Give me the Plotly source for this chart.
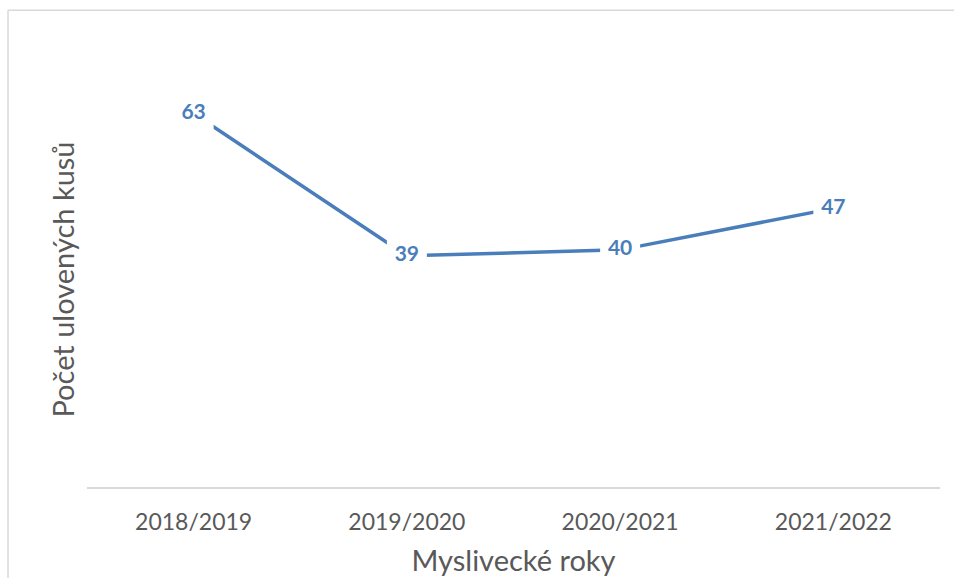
import plotly.graph_objects as go

categories = ["2018/2019", "2019/2020", "2020/2021", "2021/2022"]
values = [63, 39, 40, 47]
x_title = "Myslivecké roky"
y_title = "Počet ulovených kusů"

blue = "#4A7EBB"
gray = "#595959"
border = "#D9D9D9"
font_family = "Lato, 'Open Sans', sans-serif"

fig = go.Figure()
fig.add_trace(go.Scatter(
    x=categories, y=values,
    mode="lines+markers+text",
    line=dict(color=blue, width=3.5),
    marker=dict(symbol="square", size=40, color="white", line=dict(width=0)),
    text=[str(v) for v in values],
    textposition="middle center",
    textfont=dict(family=font_family, size=21, color=blue, weight="bold"),
    cliponaxis=False,
    hoverinfo="skip",
))

fig.update_layout(
    template="none",
    width=954, height=578,
    margin=dict(l=87, r=14, t=72, b=91),
    paper_bgcolor="white", plot_bgcolor="white",
    showlegend=False,
    font=dict(family=font_family, color=gray),
    xaxis=dict(
        type="category", automargin=False,
        range=[-0.5, len(categories) - 0.5],
        showgrid=False, zeroline=False,
        showline=True, linecolor=border, linewidth=1.5,
        ticks="", tickfont=dict(size=23, color=gray),
        ticklabelstandoff=14,
        title=dict(text=x_title, font=dict(size=29, color=gray), standoff=16),
    ),
    yaxis=dict(
        automargin=False,
        range=[0, 70],
        showgrid=False, zeroline=False, showline=False,
        showticklabels=False, ticks="",
        title=dict(text=y_title, font=dict(size=29, color=gray), standoff=2),
    ),
    shapes=[
        dict(type="line", xref="paper", yref="paper",
             x0=-0.0926, x1=1.2, y0=1.149, y1=1.149,
             line=dict(color=border, width=1.5), layer="below"),
        dict(type="line", xref="paper", yref="paper",
             x0=-0.0926, x1=-0.0926, y0=-0.5, y1=1.149,
             line=dict(color=border, width=1.5), layer="below"),
    ],
)

fig.write_html(
    "out.html",
    config={"displayModeBar": False, "staticPlot": True},
    post_script="document.body.style.margin='0';"
                "document.body.style.overflow='hidden';"
                "document.documentElement.style.overflow='hidden';",
)
